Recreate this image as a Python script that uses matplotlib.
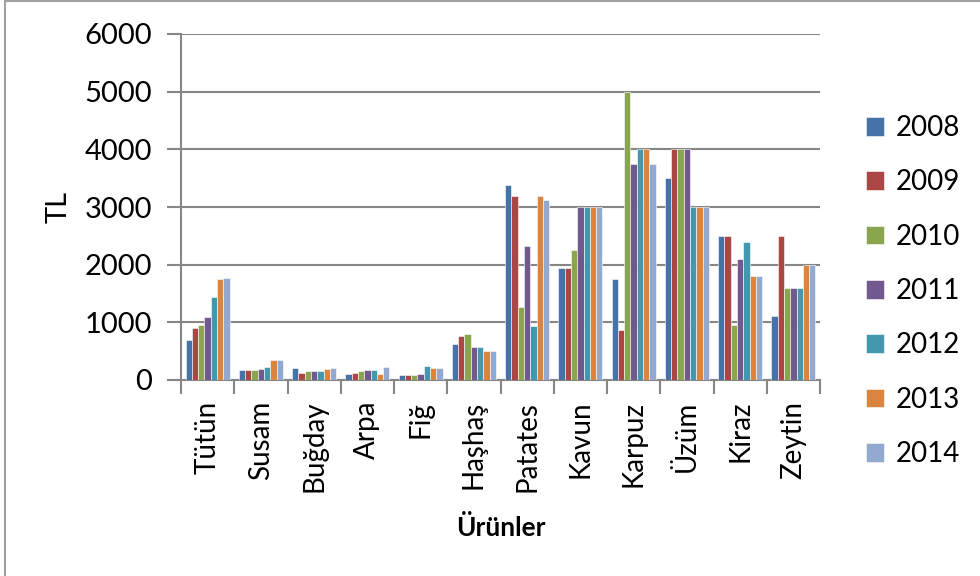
import matplotlib
matplotlib.use("Agg")
import matplotlib.pyplot as plt
import numpy as np
from matplotlib.patches import Rectangle

plt.rcParams['font.family'] = ['Lato', 'DejaVu Sans']

categories = ["Tütün", "Susam", "Buğday", "Arpa", "Fiğ", "Haşhaş", "Patates",
              "Kavun", "Karpuz", "Üzüm", "Kiraz", "Zeytin"]
years = ["2008", "2009", "2010", "2011", "2012", "2013", "2014"]

v2008 = [700, 175, 200, 100, 90, 630, 3375, 1950, 1750, 3500, 2500, 1115]
v2009 = [900, 175, 120, 120, 90, 760, 3185, 1950, 865, 4000, 2500, 2500]
v2010 = [950, 175, 160, 160, 90, 790, 1265, 2250, 5000, 4000, 950, 1600]
v2011 = [1100, 185, 160, 165, 100, 575, 2330, 3000, 3750, 4000, 2100, 1600]
v2012 = [1440, 230, 160, 170, 240, 565, 930, 3000, 4000, 3000, 2400, 1600]
v2013 = [1750, 350, 185, 110, 200, 500, 3185, 3000, 4000, 3000, 1800, 2000]
v2014 = [1775, 350, 200, 230, 200, 500, 3115, 3000, 3750, 3000, 1800, 2000]
series = [v2008, v2009, v2010, v2011, v2012, v2013, v2014]

colors = ["#4572A7", "#AA4643", "#89A54E", "#71588F", "#4198AF", "#DB843D", "#93A9CF"]

W, H = 980, 576
fig = plt.figure(figsize=(W / 100, H / 100), dpi=100)
ax = fig.add_axes([181 / W, 1 - 380 / H, (820 - 181) / W, (380 - 34) / H])

n = len(series)
bw = 1.0 / (n + 1.5)
x = np.arange(len(categories))
for i, (vals, c) in enumerate(zip(series, colors)):
    ax.bar(x - n * bw / 2 + (i + 0.5) * bw, vals, width=bw, color=c,
           edgecolor="white", linewidth=0.4, label=years[i], zorder=3)

ax.set_xlim(-0.5, len(categories) - 0.5)
ax.set_ylim(0, 6000)
ax.set_yticks(range(0, 6001, 1000))
ax.grid(axis='y', color="#868686", linewidth=1.5, zorder=0)
ax.set_axisbelow(True)

for s in ["top", "right"]:
    ax.spines[s].set_visible(False)
for s in ["left", "bottom"]:
    ax.spines[s].set_color("#868686")
    ax.spines[s].set_linewidth(1.5)

ax.set_xticks(x)
ax.set_xticklabels(categories, rotation=90, fontsize=20, va='top')
ax.tick_params(axis='x', which='major', length=0, pad=15)
ax.set_xticks(np.arange(-0.5, len(categories), 1), minor=True)
ax.tick_params(axis='x', which='minor', length=10, width=1.5, color="#868686")
ax.tick_params(axis='y', length=10, width=1.5, color="#868686", labelsize=21, pad=11)

ax.set_ylabel("TL", fontsize=21, va='center')
ax.yaxis.set_label_coords((59 - 181) / 639, 0.5)
ax.set_xlabel("Ürünler", fontsize=19, fontweight='bold', va='center')
ax.xaxis.set_label_coords(0.5, (380 - 527) / 346)

leg = ax.legend(loc='upper left', bbox_to_anchor=(855 / W, 1 - 104 / H),
                bbox_transform=fig.transFigure, frameon=False, fontsize=20,
                handlelength=0.65, handleheight=0.65, handletextpad=0.4,
                labelspacing=1.02, borderaxespad=0)

fig.patches.append(Rectangle((5 / W, -0.1), 1.1, 1 - 1 / H + 0.1, transform=fig.transFigure,
                             fill=False, edgecolor="#A0A0A0", linewidth=1.5))

fig.savefig("out.png", dpi=100)
